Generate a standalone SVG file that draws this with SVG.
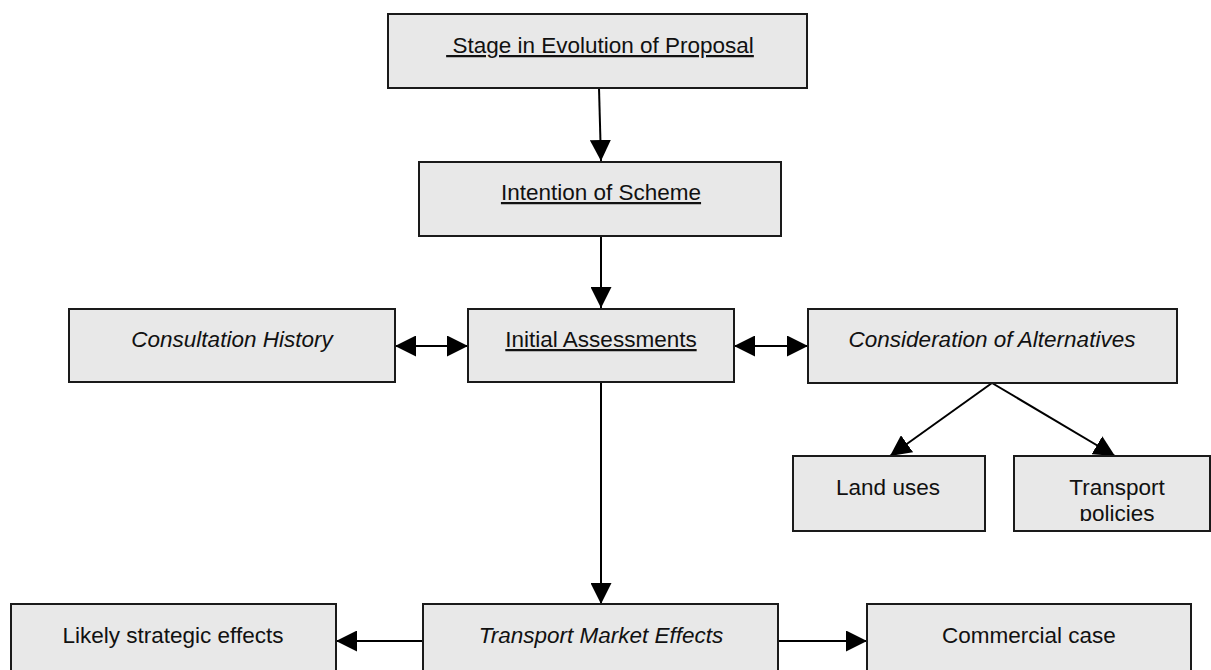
<svg xmlns="http://www.w3.org/2000/svg" width="1211" height="670" viewBox="0 0 1211 670">
<style>
.box{fill:#e8e8e8;stroke:#1a1a1a;stroke-width:2}
.t{font-family:"Liberation Sans",Arial,sans-serif;font-size:22.5px;fill:#111;text-anchor:middle}
.u{text-decoration:underline}
.i{font-style:italic}
.c{stroke:#000;stroke-width:2;fill:none}
</style>
<defs>
<marker id="ah" markerUnits="userSpaceOnUse" markerWidth="21" markerHeight="21" refX="21" refY="10.5" orient="auto-start-reverse" viewBox="0 0 21 21">
<path d="M0,0 L21,10.5 L0,21 z" fill="#000"/>
</marker>
<clipPath id="clipTP"><rect x="1014" y="456" width="197" height="65"/></clipPath>
</defs>
<rect width="1211" height="670" fill="#fff"/>
<g id="connectors">
<line class="c" x1="599" y1="88" x2="601" y2="161" marker-end="url(#ah)"/>
<line class="c" x1="601" y1="236" x2="601" y2="308" marker-end="url(#ah)"/>
<line class="c" x1="395" y1="346" x2="468" y2="346" marker-start="url(#ah)" marker-end="url(#ah)"/>
<line class="c" x1="734" y1="346" x2="808" y2="346" marker-start="url(#ah)" marker-end="url(#ah)"/>
<line class="c" x1="992" y1="383" x2="890" y2="456" marker-end="url(#ah)"/>
<line class="c" x1="992" y1="383" x2="1115" y2="456" marker-end="url(#ah)"/>
<line class="c" x1="601" y1="383" x2="601" y2="604" marker-end="url(#ah)"/>
<line class="c" x1="423" y1="641" x2="336" y2="641" marker-end="url(#ah)"/>
<line class="c" x1="778" y1="641" x2="867" y2="641" marker-end="url(#ah)"/>
</g>
<g id="stage">
<rect class="box" x="388" y="14" width="419" height="74"/>
<text class="t u" x="600" y="53" xml:space="preserve"> Stage in Evolution of Proposal</text>
</g>
<g id="intention">
<rect class="box" x="419" y="162" width="362" height="74"/>
<text class="t u" x="601" y="200">Intention of Scheme</text>
</g>
<g id="initial">
<rect class="box" x="468" y="309" width="266" height="73"/>
<text class="t u" x="601" y="347">Initial Assessments</text>
</g>
<g id="consultation">
<rect class="box" x="69" y="309" width="326" height="73"/>
<text class="t i" x="232" y="347">Consultation History</text>
</g>
<g id="alternatives">
<rect class="box" x="808" y="309" width="369" height="74"/>
<text class="t i" x="992" y="347">Consideration of Alternatives</text>
</g>
<g id="landuses">
<rect class="box" x="793" y="456" width="192" height="75"/>
<text class="t" x="888" y="495">Land uses</text>
</g>
<g id="transportpolicies">
<rect class="box" x="1014" y="456" width="196" height="75"/>
<g clip-path="url(#clipTP)">
<text class="t" x="1117" y="495">Transport</text>
<text class="t" x="1117" y="521">policies</text>
</g>
</g>
<g id="strategic">
<rect class="box" x="11" y="604" width="325" height="80"/>
<text class="t" x="173" y="643">Likely strategic effects</text>
</g>
<g id="market">
<rect class="box" x="423" y="604" width="355" height="80"/>
<text class="t i" x="601" y="643">Transport Market Effects</text>
</g>
<g id="commercial">
<rect class="box" x="867" y="604" width="324" height="80"/>
<text class="t" x="1029" y="643">Commercial case</text>
</g>
</svg>
